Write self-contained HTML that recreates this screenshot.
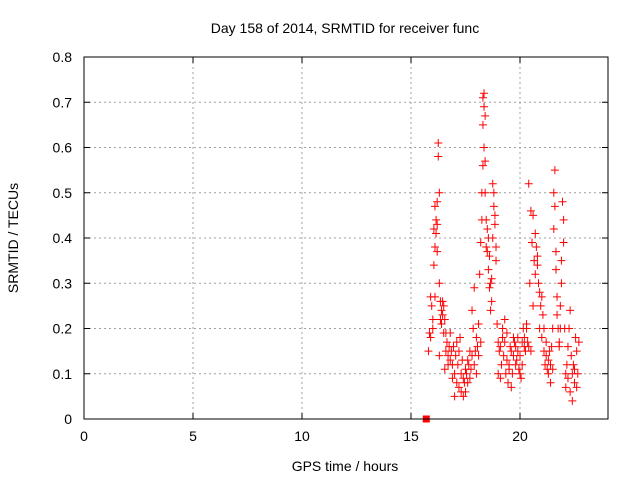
<!DOCTYPE html>
<html><head><meta charset="utf-8"><style>
body{margin:0;background:#fff}
svg text{font-family:"Liberation Sans",sans-serif;font-size:14px;fill:#000}
</style></head><body>
<svg id="chart" width="640" height="480" xmlns="http://www.w3.org/2000/svg">
<text x="345" y="33" text-anchor="middle">Day 158 of 2014, SRMTID for receiver func</text>
<text x="345" y="471" text-anchor="middle">GPS time / hours</text>
<text transform="translate(18,238) rotate(-90)" text-anchor="middle">SRMTID / TECUs</text>
<g id="grid"></g>
<g id="ticks"></g>
<g id="marks"></g>
<rect x="84" y="57" width="524" height="362" fill="none" stroke="#000" stroke-width="1"/>
</svg>
<script>
const xTicks=[0,5,10,15,20];
const yTicks=[0,0.1,0.2,0.3,0.4,0.5,0.6,0.7,0.8];
const yTickLabels=["0","0.1","0.2","0.3","0.4","0.5","0.6","0.7","0.8"];
const times=[15.8,15.85,15.9,15.9,15.95,16.0,16.0,16.05,16.05,16.1,16.1,16.1,16.15,16.15,16.2,16.2,16.2,16.25,16.25,16.3,16.3,16.3,16.35,16.35,16.4,16.4,16.45,16.45,16.5,16.5,16.55,16.55,16.6,16.6,16.65,16.7,16.7,16.75,16.8,16.8,16.85,16.9,16.9,16.95,17.0,17.0,17.05,17.1,17.1,17.15,17.2,17.2,17.25,17.3,17.3,17.35,17.4,17.4,17.45,17.5,17.5,17.55,17.6,17.6,17.65,17.7,17.7,17.75,17.8,17.8,17.85,17.9,17.9,17.95,18.0,18.0,18.05,18.1,18.1,18.15,18.2,18.2,18.25,18.25,18.3,18.3,18.3,18.35,18.35,18.35,18.4,18.4,18.4,18.45,18.45,18.5,18.5,18.55,18.55,18.6,18.6,18.65,18.65,18.7,18.7,18.75,18.75,18.8,18.8,18.85,18.85,18.9,18.9,18.95,19.0,19.0,19.05,19.1,19.1,19.15,19.2,19.2,19.25,19.3,19.3,19.35,19.4,19.4,19.45,19.5,19.5,19.55,19.6,19.6,19.65,19.7,19.7,19.75,19.8,19.8,19.85,19.9,19.9,19.95,20.0,20.0,20.05,20.1,20.1,20.15,20.2,20.2,20.25,20.3,20.3,20.35,20.4,20.4,20.45,20.5,20.5,20.55,20.6,20.6,20.65,20.7,20.7,20.75,20.8,20.8,20.85,20.9,20.9,20.95,21.0,21.0,21.05,21.1,21.1,21.15,21.2,21.2,21.25,21.3,21.3,21.35,21.4,21.4,21.45,21.5,21.5,21.55,21.55,21.6,21.6,21.65,21.65,21.7,21.7,21.75,21.8,21.8,21.85,21.85,21.9,21.9,21.95,22.0,22.0,22.05,22.1,22.1,22.15,22.2,22.2,22.25,22.3,22.3,22.35,22.4,22.4,22.45,22.5,22.5,22.55,22.6,22.6,22.65,22.7];
const values=[0.15,0.19,0.27,0.18,0.25,0.22,0.2,0.34,0.42,0.47,0.38,0.27,0.44,0.41,0.48,0.43,0.37,0.58,0.61,0.5,0.3,0.14,0.26,0.22,0.24,0.21,0.26,0.23,0.25,0.19,0.22,0.11,0.19,0.15,0.17,0.14,0.12,0.16,0.13,0.19,0.15,0.12,0.09,0.16,0.1,0.05,0.14,0.17,0.08,0.12,0.15,0.07,0.18,0.1,0.06,0.13,0.09,0.05,0.08,0.11,0.06,0.1,0.08,0.13,0.12,0.09,0.15,0.11,0.14,0.24,0.2,0.12,0.29,0.15,0.18,0.1,0.16,0.14,0.21,0.32,0.17,0.39,0.44,0.5,0.56,0.65,0.71,0.72,0.69,0.6,0.67,0.57,0.5,0.44,0.38,0.42,0.37,0.4,0.33,0.36,0.29,0.3,0.24,0.26,0.31,0.4,0.52,0.47,0.5,0.45,0.43,0.38,0.35,0.21,0.1,0.17,0.15,0.09,0.16,0.12,0.18,0.2,0.14,0.22,0.17,0.1,0.13,0.19,0.08,0.12,0.11,0.16,0.07,0.15,0.1,0.18,0.14,0.17,0.12,0.16,0.13,0.18,0.15,0.11,0.14,0.1,0.09,0.17,0.12,0.2,0.16,0.18,0.15,0.21,0.2,0.17,0.16,0.52,0.3,0.46,0.15,0.39,0.25,0.45,0.35,0.41,0.32,0.38,0.34,0.36,0.3,0.28,0.2,0.25,0.18,0.27,0.23,0.15,0.2,0.12,0.17,0.14,0.11,0.13,0.1,0.15,0.12,0.08,0.16,0.11,0.2,0.42,0.5,0.55,0.47,0.37,0.33,0.27,0.23,0.2,0.17,0.16,0.25,0.2,0.35,0.3,0.48,0.44,0.39,0.2,0.1,0.07,0.12,0.16,0.09,0.2,0.24,0.06,0.14,0.1,0.04,0.12,0.08,0.11,0.18,0.07,0.15,0.1,0.17,0.14];
const NS="http://www.w3.org/2000/svg";
const X0=84,X1=607.2,Y0=419,Y1=57;
function sx(v){return X0+v/24*(X1-X0);}
function sy(v){return Y0-v/0.8*(Y0-Y1);}
function mk(tag,attrs,parent){const e=document.createElementNS(NS,tag);for(const k in attrs)e.setAttribute(k,attrs[k]);parent.appendChild(e);return e;}
const grid=document.getElementById('grid'),ticks=document.getElementById('ticks'),marks=document.getElementById('marks');
xTicks.forEach(t=>{
  const x=sx(t);
  if(t>0){const g=mk('line',{x1:x,x2:x,y1:Y1,y2:Y0,stroke:'#a0a0a0','stroke-dasharray':'2,3'},grid);
  
  }
  mk('line',{x1:x,x2:x,y1:Y0,y2:Y0-6,stroke:'#000'},ticks);
  mk('line',{x1:x,x2:x,y1:Y1,y2:Y1+6,stroke:'#000'},ticks);
  const l=mk('text',{x:x,y:441,'text-anchor':'middle'},ticks);l.textContent=String(t);
  
  
});
yTicks.forEach((t,i)=>{
  const y=sy(t);
  if(i>0&&i<yTicks.length-1){const g=mk('line',{x1:X0,x2:608,y1:y,y2:y,stroke:'#a0a0a0','stroke-dasharray':'2,3'},grid);
  
  }
  mk('line',{x1:X0,x2:X0+6,y1:y,y2:y,stroke:'#000'},ticks);
  mk('line',{x1:608,x2:602,y1:y,y2:y,stroke:'#000'},ticks);
  const l=mk('text',{x:72,y:y+5,'text-anchor':'end'},ticks);l.textContent=yTickLabels[i];
  
  
});
times.forEach((t,i)=>{
  const x=sx(t),y=sy(values[i]);
  const p=mk('path',{d:`M${x-4},${y}H${x+4}M${x},${y-4}V${y+4}`,stroke:'#f00','stroke-width':1},marks);
  
  
});
const sq=mk('rect',{x:sx(15.7)-3.5,y:sy(0)-3.5,width:7,height:7,fill:'#f00'},marks);


</script>
</body></html>
